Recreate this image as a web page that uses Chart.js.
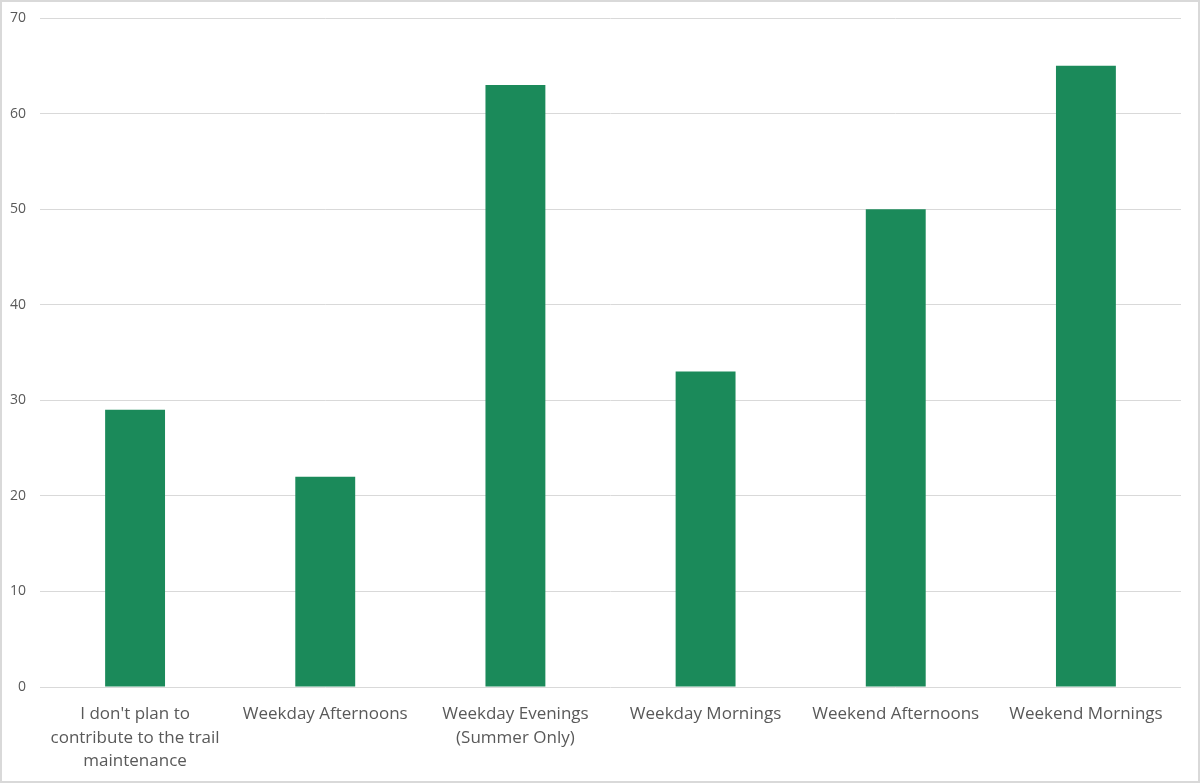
<!DOCTYPE html>
<html lang="en">
<head>
  <meta charset="UTF-8">
  <title>Trail maintenance availability</title>
  <script src="https://cdn.jsdelivr.net/npm/chart.js"></script>
  <style>
    body {
      margin: 0;
      background: #ffffff;
    }

    #chartBox {
      width: 1200px;
      height: 783px;
      outline: 2px solid #d9d9d9;
      outline-offset: -2px;
    }
  </style>
</head>
<body>
  <div id="chartBox">
    <canvas id="availabilityChart" width="1200" height="783"></canvas>
  </div>

  <script>
    const categories = [
      ["I don't plan to", "contribute to the trail", "maintenance"],
      "Weekday Afternoons",
      ["Weekday Evenings", "(Summer Only)"],
      "Weekday Mornings",
      "Weekend Afternoons",
      "Weekend Mornings"
    ];
    const responses = [29, 22, 63, 33, 50, 65];
    const yTicks = [0, 10, 20, 30, 40, 50, 60, 70];

    const ctx = document.getElementById("availabilityChart").getContext('2d');

    new Chart(ctx, {
      type: 'bar',
      data: {
        labels: categories,
        datasets: [{
          label: "Responses",
          data: responses,
          backgroundColor: "#1b8a5a",
          categoryPercentage: 1.0,
          barPercentage: 0.315
        }]
      },
      options: {
        responsive: false,
        animation: false,
        layout: {
          padding: { top: 18, right: 19, left: 0, bottom: 0 }
        },
        plugins: {
          legend: { display: false },
          tooltip: { enabled: false }
        },
        scales: {
          x: {
            grid: { display: false },
            border: { display: false },
            ticks: {
              color: "#595959",
              font: { family: "'Open Sans', sans-serif", size: 17, lineHeight: 1.4 },
              padding: 7,
              maxRotation: 0,
              autoSkip: false
            },
            afterFit: scale => { scale.height = 96; }
          },
          y: {
            min: 0,
            max: 70,
            afterBuildTicks: scale => {
              scale.ticks = yTicks.map(v => ({ value: v }));
            },
            grid: { color: "#d9d9d9", lineWidth: 1, drawTicks: false },
            border: { display: false },
            ticks: {
              color: "#595959",
              font: { family: "'Open Sans', sans-serif", size: 14 },
              padding: 14
            },
            afterFit: scale => {
              scale.width = 40;
              // let the layout padding alone decide the top of the plot
              scale.paddingTop = 0;
              scale.paddingBottom = 0;
            }
          }
        }
      }
    });
  </script>
</body>
</html>
